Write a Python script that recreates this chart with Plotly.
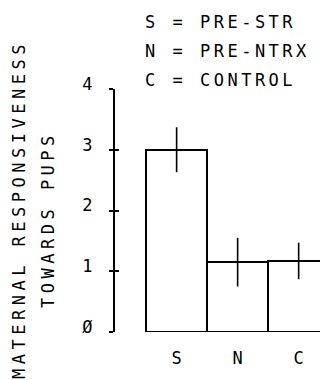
import plotly.graph_objects as go

categories = ["S", "N", "C"]
responsiveness = [3.0, 1.15, 1.17]
sem = [0.37, 0.40, 0.30]
ytick_vals = [0, 1, 2, 3, 4]
ytick_text = ["Ø", "1", "2", "3", "4"]
legend_lines = ["S = PRE-STR", "N = PRE-NTRX", "C = CONTROL"]
ytitle_lines = ["MATERNAL RESPONSIVENESS", "TOWARDS PUPS"]

FONT = "DejaVu Sans Mono"
FS = 17

def spaced(t, ls):
    return f'<span style="letter-spacing:{ls}px">{t}</span>'

xpos = list(range(len(categories)))

fig = go.Figure()
fig.add_trace(go.Bar(
    x=xpos, y=responsiveness, width=1.0,
    marker=dict(color="white", line=dict(color="black", width=2)),
    error_y=dict(type="data", array=sem, visible=True, color="black",
                 thickness=1.6, width=0),
    showlegend=False,
))
fig.add_trace(go.Scatter(x=[], y=[], yaxis="y2", showlegend=False))

W, H = 320, 380
L, R, T, B = 115, 0, 89, 48

fig.update_layout(
    width=W, height=H,
    margin=dict(l=L, r=R, t=T, b=B, pad=0),
    paper_bgcolor="white", plot_bgcolor="white",
    font=dict(family=FONT, size=FS, color="black"),
    bargap=0,
    xaxis=dict(range=[-1.01, 2.35], tickvals=xpos, ticktext=categories,
               showline=False, showgrid=False, zeroline=False, ticks="",
               ticklabelstandoff=14, fixedrange=True),
    yaxis=dict(range=[0, 4], tickvals=ytick_vals, ticktext=ytick_text,
               showline=True, linecolor="black", linewidth=2,
               ticks="outside", ticklen=4, tickwidth=1.5, tickcolor="black",
               showgrid=False, zeroline=False, ticklabelshift=-5,
               ticklabelstandoff=13),
    yaxis2=dict(range=[0, 4], overlaying="y", side="left", tickvals=ytick_vals,
                showticklabels=False, ticks="inside", ticklen=4, tickwidth=1.5,
                tickcolor="black", showline=False, showgrid=False, zeroline=False),
)

pw, ph = W - L - R, H - T - B
def px(xp):
    return (xp - L) / pw
def py(yp):
    return (H - B - yp) / ph

for txt, yy in zip(legend_lines, [22, 51, 80]):
    fig.add_annotation(text=spaced(txt, 3.5), xref="paper", yref="paper",
                       x=px(143), y=py(yy), xanchor="left", yanchor="middle",
                       showarrow=False, font=dict(family=FONT, size=FS))

for txt, xx, yy in zip(ytitle_lines, [19, 48], [210, 220]):
    fig.add_annotation(text=spaced(txt, 4.5), xref="paper", yref="paper",
                       x=px(xx), y=py(yy), xanchor="center", yanchor="middle",
                       textangle=-90, showarrow=False,
                       font=dict(family=FONT, size=FS))

fig.write_html("out.html", config={"displayModeBar": False},
               post_script="document.body.style.margin='0';")
